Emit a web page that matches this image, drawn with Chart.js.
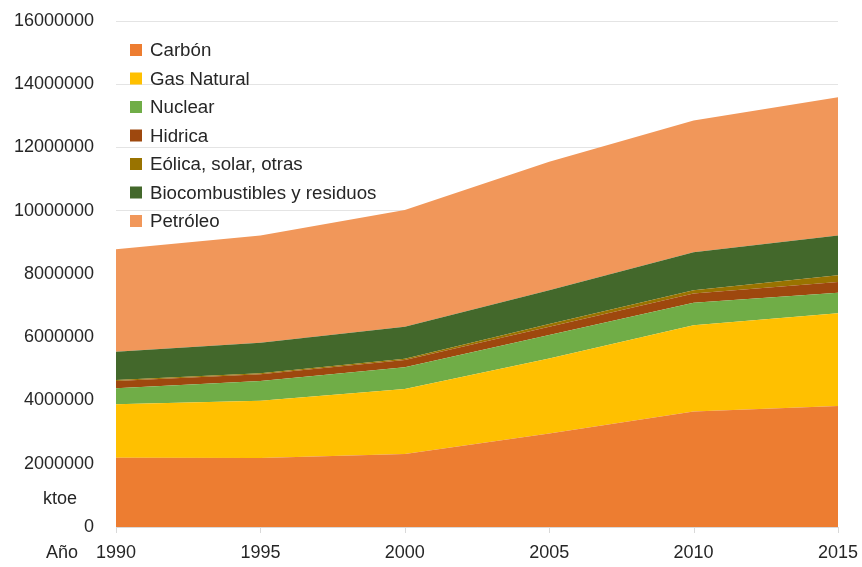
<!DOCTYPE html>
<html>
<head>
<meta charset="utf-8">
<script src="https://cdn.jsdelivr.net/npm/chart.js@4/dist/chart.umd.min.js"></script>
<style>
html,body{margin:0;padding:0;background:#fff;}
#wrap{width:862px;height:567px;position:relative;}
</style>
</head>
<body>
<div id="wrap"><canvas id="c" width="862" height="567"></canvas></div>
<script>
const years = ['1990','1995','2000','2005','2010','2015'];
const carbon = [2190000, 2180000, 2310000, 2960000, 3650000, 3830000];
const gasNatural = [1690000, 1810000, 2050000, 2370000, 2730000, 2930000];
const nuclear = [510000, 630000, 690000, 740000, 710000, 650000];
const hidrica = [230000, 210000, 230000, 260000, 290000, 340000];
const eolica = [30000, 30000, 40000, 90000, 110000, 210000];
const biocombustibles = [890000, 970000, 1010000, 1070000, 1200000, 1260000];
const petroleo = [3240000, 3390000, 3690000, 4060000, 4160000, 4370000];
const yTicks = [0, 2000000, 4000000, 6000000, 8000000, 10000000, 12000000, 14000000, 16000000];

const names = ['Carbón','Gas Natural','Nuclear','Hidrica','Eólica, solar, otras','Biocombustibles y residuos','Petróleo'];
const series = [carbon, gasNatural, nuclear, hidrica, eolica, biocombustibles, petroleo];
const colors = ['#ED7D31','#FFC000','#70AD47','#9E480E','#997300','#43682B','#F1975A'];

const FONT = '"Liberation Sans", Arial, sans-serif';
const TXT = '#262626';

const datasets = series.map((d, i) => ({
  label: names[i],
  data: d,
  backgroundColor: colors[i],
  borderColor: colors[i],
  borderWidth: 0,
  pointRadius: 0,
  fill: i === 0 ? 'origin' : '-1',
  tension: 0
}));

const legendPlugin = {
  id: 'customLegend',
  afterDraw(chart) {
    const ctx = chart.ctx;
    const xs = chart.scales.x;
    const ys = chart.scales.y;
    ctx.save();
    ctx.strokeStyle = '#d9d9d9';
    ctx.lineWidth = 1;
    xs.ticks.forEach((t, i) => {
      const px = Math.round(xs.getPixelForTick(i)) + 0.5;
      ctx.beginPath();
      ctx.moveTo(px, xs.top);
      ctx.lineTo(px, xs.top + 6);
      ctx.stroke();
    });
    ctx.font = '18.7px ' + FONT;
    ctx.textBaseline = 'middle';
    ctx.textAlign = 'left';
    chart.data.datasets.forEach((ds, i) => {
      const y = 50 + i * 28.5;
      ctx.fillStyle = ds.backgroundColor;
      ctx.fillRect(130, y - 6, 12, 12);
      ctx.fillStyle = TXT;
      ctx.fillText(ds.label, 150, y + 1);
    });
    ctx.font = '18px ' + FONT;
    ctx.textAlign = 'center';
    ctx.fillText('ktoe', 60, ys.getPixelForValue(900000));
    ctx.fillText('Año', 62, 553);
    ctx.restore();
  }
};

new Chart(document.getElementById('c'), {
  type: 'line',
  data: { labels: years, datasets },
  options: {
    responsive: false,
    animation: false,
    layout: { padding: { top: 21, right: 24, left: 0, bottom: 0 } },
    plugins: { legend: { display: false }, tooltip: { enabled: false } },
    scales: {
      x: {
        type: 'category',
        offset: false,
        grid: { drawOnChartArea: false, drawTicks: true, tickLength: 14, tickColor: 'rgba(0,0,0,0)' },
        border: { display: true, color: '#d9d9d9' },
        ticks: { font: { family: FONT, size: 18 }, color: TXT, padding: 1, maxRotation: 0 },
        afterFit(s) { s.height = 40; }
      },
      y: {
        stacked: true,
        min: 0,
        max: 16000000,
        afterBuildTicks(s) { s.ticks = yTicks.map(v => ({ value: v })); },
        grid: { color: '#e4e4e4', drawTicks: true, tickLength: 21, tickColor: 'rgba(0,0,0,0)', lineWidth: 1 },
        border: { display: false },
        ticks: { font: { family: FONT, size: 18 }, color: TXT, padding: 1, callback: v => String(v) },
        afterFit(s) { s.width = 116; }
      }
    }
  },
  plugins: [legendPlugin]
});
</script>
</body>
</html>
